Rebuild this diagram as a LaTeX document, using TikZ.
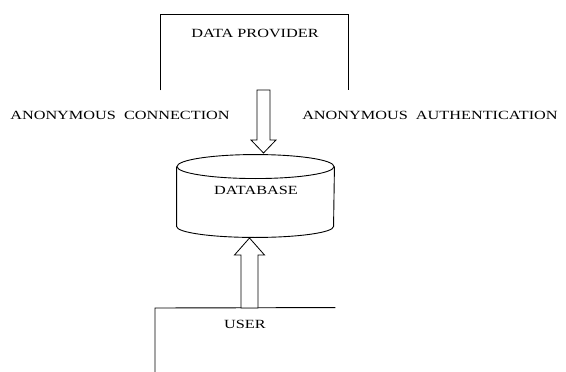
\documentclass[tikz,border=0pt]{standalone}
\usepackage{fontspec}
\setmainfont{Liberation Serif}[FakeStretch=1.3]
\usetikzlibrary{calc}
\begin{document}
\begin{tikzpicture}[x=1pt, y=-1pt, line width=0.9pt,
  lbl/.style={inner sep=0pt, font=\fontsize{12.5}{15}\selectfont},
  hollow/.style={draw, line width=0.8pt, fill=white, line join=miter}]
\useasboundingbox (0,0) rectangle (566,372);

% data provider: open box (top and sides)
\node[inner sep=0pt, minimum width=187pt, minimum height=75pt] (prov) at (254.5,52.5) {};
\draw (prov.south west) -- (prov.north west) -- (prov.north east) -- (prov.south east);
\node[lbl] (provtxt) at (255,33) {DATA PROVIDER};

% side labels
\node[lbl] (conn) at (120,115) {ANONYMOUS\ \ CONNECTION};
\node[lbl] (auth) at (430,115) {ANONYMOUS\ \ AUTHENTICATION};

% database cylinder
\node[inner sep=0pt, minimum width=157pt, minimum height=59pt] (db) at (255.5,196.5) {};
\draw (db.north) ellipse [x radius=78.5pt, y radius=12pt];
\draw (db.north west) -- (db.south west)
      arc [start angle=180, end angle=360, x radius=78.5pt, y radius=11pt]
      -- (db.north east);
\node[lbl] (dbtxt) at (256,190) {DATABASE};

% user: open box (top and left side)
\node[inner sep=0pt, minimum width=180pt, minimum height=70pt] (user) at (245,343) {};
\coordinate (userTL) at (155,308);
\draw (user.north east) -- (userTL) -- (155,372);
\node[lbl] (usertxt) at (245,324) {USER};

% hollow arrow: data provider -> database
\coordinate (inA) at (263.5,90);
\coordinate (outA) at (263.5,153);
\draw[hollow] ($(inA)+(-6.5,0)$) -- ($(outA)+(-6.5,-13)$) -- ($(outA)+(-12.5,-13)$)
  -- (outA) -- ($(outA)+(12.5,-13)$) -- ($(outA)+(6.5,-13)$) -- ($(inA)+(6.5,0)$) -- cycle;

% hollow arrow: user -> database
\coordinate (inB) at (249.5,308);
\coordinate (outB) at (249.5,238);
\draw[hollow] ($(inB)+(-8.5,0)$) -- ($(outB)+(-8.5,17)$) -- ($(outB)+(-15,17)$)
  -- (outB) -- ($(outB)+(15,17)$) -- ($(outB)+(8.5,17)$) -- ($(inB)+(8.5,0)$) -- cycle;
\end{tikzpicture}
\end{document}
